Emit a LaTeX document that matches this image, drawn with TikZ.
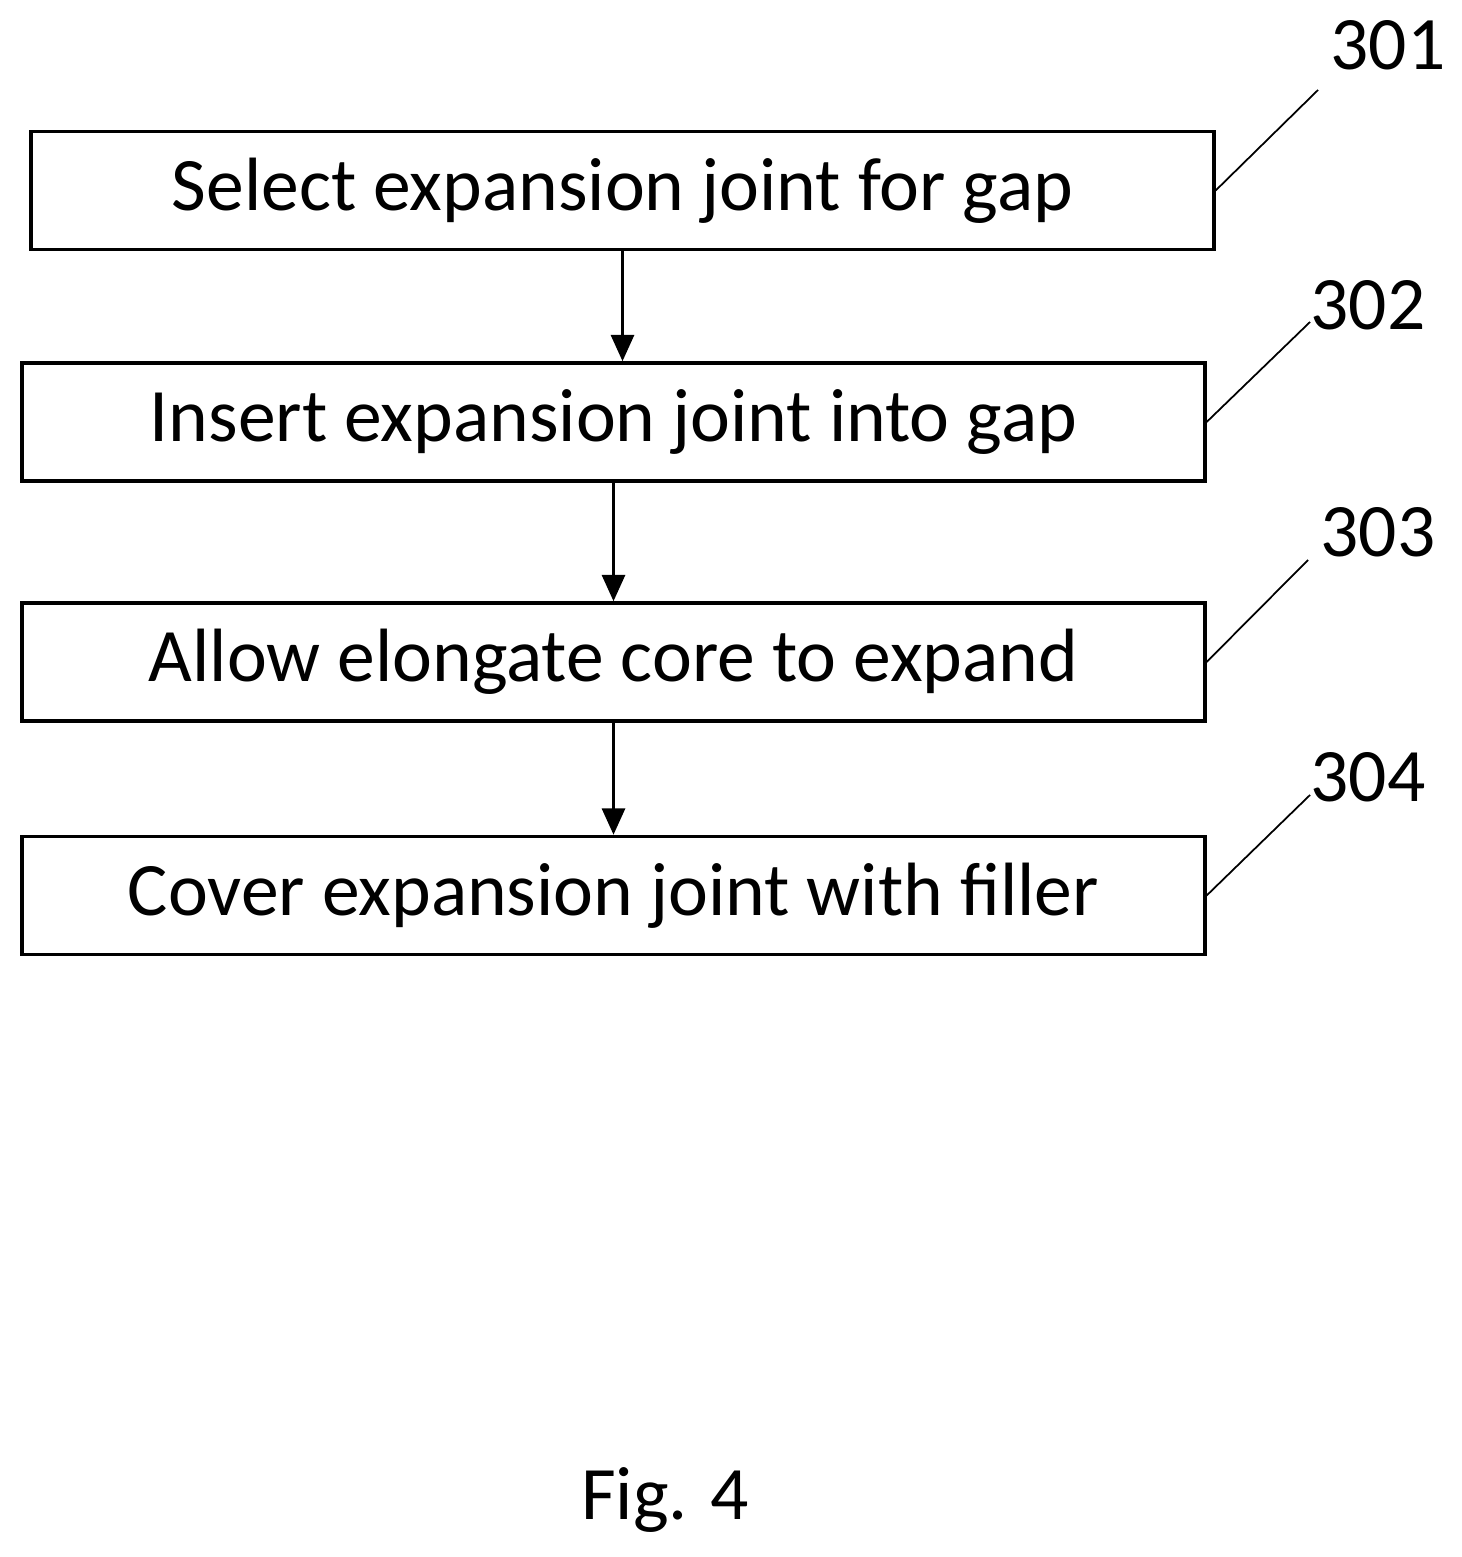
\documentclass[tikz,border=0pt]{standalone}
\usepackage{fontspec}
\setmainfont{Carlito}
\usetikzlibrary{arrows.meta}
\begin{document}
\begin{tikzpicture}[x=0.02cm,y=-0.02cm]
      \tikzset{
      stepbox/.style={draw, line width=2pt, inner sep=0pt, minimum width=23.66cm, minimum height=2.36cm, font=\fontsize{43}{48}\selectfont},
      flow/.style={line width=2pt, -{Triangle[length=15pt,width=13pt]}},
      lead/.style={line width=1pt},
      num/.style={font=\fontsize{43}{48}\selectfont},
      }
      \useasboundingbox (0,0) rectangle (1462,1557);

      %steps
      \node[stepbox] (s1) at (622.5,190.5) {Select expansion joint for gap};
      \node[stepbox] (s2) at (613.5,422) {Insert expansion joint into gap};
      \node[stepbox] (s3) at (613.5,662) {Allow elongate core to expand};
      \node[stepbox] (s4) at (613.5,895.5) {Cover expansion joint with filler};

      %arrows
      \draw[flow] (s1.south) -- (s2.north -| s1.south);
      \draw[flow] (s2.south) -- (s3.north);
      \draw[flow] (s3.south) -- (s4.north);

      %reference numbers
      \node[num] (n1) at (1388,45) {301};
      \node[num] (n2) at (1368,305) {302};
      \node[num] (n3) at (1378,532) {303};
      \node[num] (n4) at (1368,777) {304};
      \coordinate (e1) at (1318,90);
      \coordinate (e2) at (1310,322);
      \coordinate (e3) at (1308,560);
      \coordinate (e4) at (1310,795);
      \draw[lead] (s1.east) -- (e1);
      \draw[lead] (s2.east) -- (e2);
      \draw[lead] (s3.east) -- (e3);
      \draw[lead] (s4.east) -- (e4);

      \node[num] (fig) at (665,1500) {Fig. 4};
\end{tikzpicture}
\end{document}
